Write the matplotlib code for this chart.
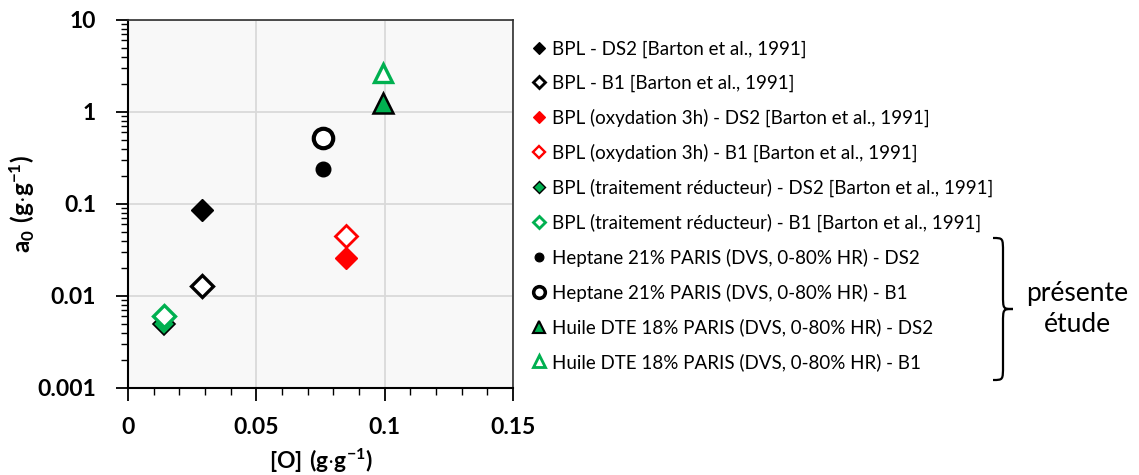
import matplotlib.pyplot as plt
from matplotlib.path import Path
from matplotlib.patches import PathPatch
from matplotlib.ticker import LogLocator, MultipleLocator, NullFormatter
from matplotlib.lines import Line2D

plt.rcParams['font.family'] = ['Lato', 'DejaVu Sans']
plt.rcParams['mathtext.fontset'] = 'custom'
plt.rcParams['mathtext.rm'] = 'Lato'
plt.rcParams['mathtext.bf'] = 'Lato:bold'

# series: oxygen content [O] and a0 for each sample
LABELS = ['BPL - DS2 [Barton et al., 1991]',
          'BPL - B1 [Barton et al., 1991]',
          'BPL (oxydation 3h) - DS2 [Barton et al., 1991]',
          'BPL (oxydation 3h) - B1 [Barton et al., 1991]',
          'BPL (traitement réducteur) - DS2 [Barton et al., 1991]',
          'BPL (traitement réducteur) - B1 [Barton et al., 1991]',
          'Heptane 21% PARIS (DVS, 0-80% HR) - DS2',
          'Heptane 21% PARIS (DVS, 0-80% HR) - B1',
          'Huile DTE 18% PARIS (DVS, 0-80% HR) - DS2',
          'Huile DTE 18% PARIS (DVS, 0-80% HR) - B1']
O_CONTENT = [0.029, 0.029, 0.085, 0.085, 0.014, 0.014, 0.076, 0.076, 0.0995, 0.0995]
A0 = [0.085, 0.013, 0.026, 0.045, 0.005, 0.0061, 0.24, 0.52, 1.25, 2.65]
X_TICKS = [0, 0.05, 0.1, 0.15]
X_TICKLABELS = ['0', '0.05', '0.1', '0.15']
Y_TICKS = [0.001, 0.01, 0.1, 1, 10]
Y_TICKLABELS = ['0.001', '0.01', '0.1', '1', '10']

GREEN = '#00B050'
# marker, face colour, edge colour, marker size, edge width
STYLES = [('D', 'black', 'black', 11, 1.0),
          ('D', 'white', 'black', 11, 2.4),
          ('D', 'red', 'red', 11, 1.0),
          ('D', 'white', 'red', 11, 2.0),
          ('D', GREEN, 'black', 11, 1.2),
          ('D', 'white', GREEN, 11, 2.4),
          ('o', 'black', 'black', 10.5, 1.0),
          ('o', 'white', 'black', 14, 3.0),
          ('^', GREEN, 'black', 14.5, 1.8),
          ('^', 'white', GREEN, 13.5, 2.4)]

fig = plt.figure(figsize=(11.39, 4.75), dpi=100)
ax = fig.add_axes([0.1124, 0.1832, 0.338, 0.7747])
ax.set_facecolor('#f8f8f8')

for x, y, st in zip(O_CONTENT, A0, STYLES):
    m, fc, ec, ms, mew = st
    ax.plot([x], [y], linestyle='none', marker=m, markerfacecolor=fc,
            markeredgecolor=ec, markersize=ms, markeredgewidth=mew, zorder=3)

ax.set_yscale('log')
ax.set_xlim(0, 0.15)
ax.set_ylim(0.001, 10)

ax.set_xticks(X_TICKS)
ax.set_xticklabels(X_TICKLABELS)
ax.xaxis.set_minor_locator(MultipleLocator(0.01))
ax.set_yticks(Y_TICKS)
ax.set_yticklabels(Y_TICKLABELS)
ax.yaxis.set_minor_locator(LogLocator(base=10, subs=range(2, 10)))
ax.yaxis.set_minor_formatter(NullFormatter())

ax.grid(True, which='major', color='#d9d9d9', linewidth=1.3)
ax.set_axisbelow(True)
ax.tick_params(which='major', direction='out', length=9, width=1.3,
               labelsize=16.5)
ax.tick_params(which='minor', direction='out', length=5, width=1.0)
ax.tick_params(axis='x', which='major', pad=12)
ax.tick_params(axis='y', which='major', pad=14)
for lab in ax.get_xticklabels() + ax.get_yticklabels():
    lab.set_fontweight('bold')
for side in ['left', 'bottom']:
    ax.spines[side].set_linewidth(1.5)
for side in ['top', 'right']:
    ax.spines[side].set_linewidth(1.2)
    ax.spines[side].set_color('#303030')

ax.set_xlabel(r'$\mathbf{[O]\ (g{\cdot}g^{-1})}$', fontsize=16.5, labelpad=6)
ax.set_ylabel(r'$\mathbf{a_0\ (g{\cdot}g^{-1})}$', fontsize=17.5)
ax.yaxis.set_label_coords(-0.236, 0.5)

# legend to the right of the plot
handles = []
for st in STYLES:
    m, fc, ec, ms, mew = st
    handles.append(Line2D([], [], linestyle='none', marker=m, markerfacecolor=fc,
                          markeredgecolor=ec, markersize=ms * 0.6,
                          markeredgewidth=mew * 0.85))
fig.legend(handles, LABELS, loc='upper left', bbox_to_anchor=(0.462, 0.93),
           frameon=False, fontsize=13.5, handlelength=0.6, handletextpad=0.4,
           labelspacing=0.89, borderaxespad=0)

# curly brace grouping the present-study series
def brace(x0, y0, y1, w):
    ym = (y0 + y1) / 2
    h = w * 0.5
    verts = [(x0, y0), (x0 + h, y0), (x0 + h, y0), (x0 + h, y0 + (ym - y0) * 0.2),
             (x0 + h, ym - (ym - y0) * 0.2),
             (x0 + h, ym), (x0 + h, ym), (x0 + w, ym),
             (x0 + h, ym), (x0 + h, ym), (x0 + h, ym + (y1 - ym) * 0.2),
             (x0 + h, y1 - (y1 - ym) * 0.2),
             (x0 + h, y1), (x0 + h, y1), (x0, y1)]
    codes = [Path.MOVETO, Path.CURVE4, Path.CURVE4, Path.CURVE4, Path.LINETO,
             Path.CURVE4, Path.CURVE4, Path.CURVE4,
             Path.CURVE4, Path.CURVE4, Path.CURVE4, Path.LINETO,
             Path.CURVE4, Path.CURVE4, Path.CURVE4]
    return Path(verts, codes)

bx0 = 993 / 1139
bw = 20 / 1139
by0 = 1 - 238 / 475
by1 = 1 - 380 / 475
fig.patches.append(PathPatch(brace(bx0, by0, by1, bw), facecolor='none',
                             edgecolor='black', linewidth=1.6,
                             transform=fig.transFigure))
fig.text(1077 / 1139, 1 - 309 / 475, 'présente\nétude', ha='center', va='center',
         fontsize=19, linespacing=1.25)

fig.savefig('out.png', dpi=100)
